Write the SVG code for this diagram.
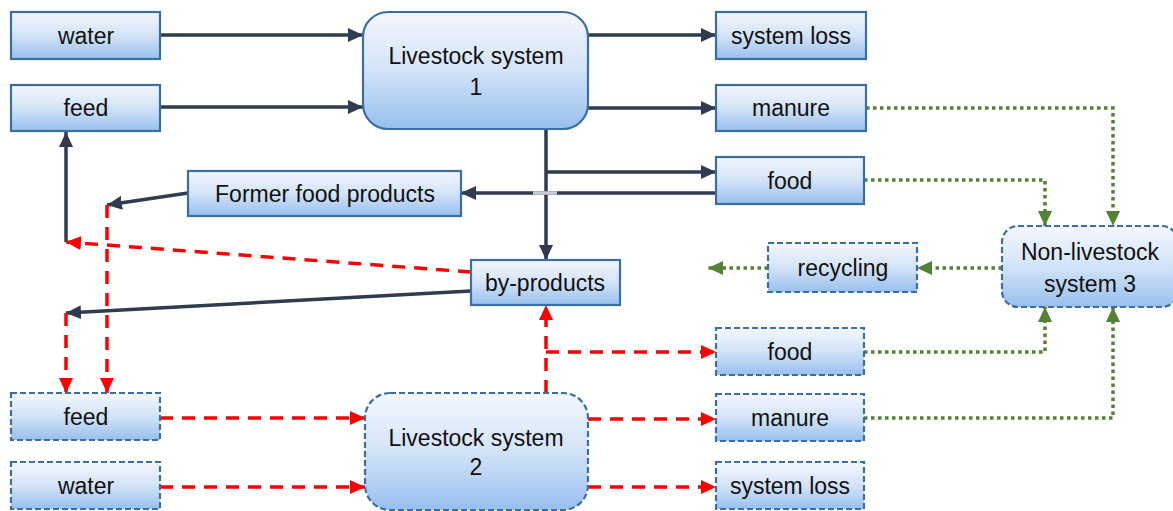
<svg xmlns="http://www.w3.org/2000/svg" width="1173" height="511" viewBox="0 0 1173 511">
<defs>
<linearGradient id="g" x1="0" y1="0" x2="0" y2="1">
<stop offset="0" stop-color="#f4f7fd"/>
<stop offset="0.5" stop-color="#d3e3f7"/>
<stop offset="1" stop-color="#97bfee"/>
</linearGradient>
<marker id="ad" markerUnits="userSpaceOnUse" markerWidth="15" markerHeight="14" refX="15" refY="7" orient="auto"><path d="M0,0 L15,7 L0,14 z" fill="#2f3b4e"/></marker>
<marker id="ar" markerUnits="userSpaceOnUse" markerWidth="15" markerHeight="14" refX="15" refY="7" orient="auto"><path d="M0,0 L15,7 L0,14 z" fill="#ff0000"/></marker>
<marker id="ag" markerUnits="userSpaceOnUse" markerWidth="15" markerHeight="14" refX="15" refY="7" orient="auto"><path d="M0,0 L15,7 L0,14 z" fill="#538135"/></marker>
</defs>
<style>
.b{fill:url(#g);stroke:#3a6fa3;stroke-width:2.2}
.d{stroke-dasharray:6 3}
text{font-family:"Liberation Sans",Arial,sans-serif;font-size:23px;fill:#111;text-anchor:middle}
.k{fill:none;stroke:#2f3b4e;stroke-width:3.5;marker-end:url(#ad)}
.r{fill:none;stroke:#ff0000;stroke-width:3.5;stroke-dasharray:13 9;marker-end:url(#ar)}
.gr{fill:none;stroke:#538135;stroke-width:3.5;stroke-dasharray:3.5 3.5;marker-end:url(#ag)}
</style>
<g id="connectors">
<path class="k" d="M160,35 H363"/>
<path class="k" d="M160,107 H363"/>
<path class="k" d="M588,35 H716"/>
<path class="k" d="M588,108 H716"/>
<path class="k" d="M546,130 V260"/>
<path class="k" d="M546,172 H716"/>
<path class="k" d="M716,193 H461"/>
<path d="M533,193 H557" stroke="#c9ccd2" stroke-width="3.5"/>
<path class="k" d="M188,193 L107,205"/>
<path class="k" d="M66,242 V132"/>
<path class="r" d="M471,272 L66,242"/>
<path class="k" d="M471,291 L66,313"/>
<path class="r" d="M66,313 V393"/>
<path class="r" d="M107,205 V393"/>
<path class="r" d="M160,418 H365"/>
<path class="r" d="M160,487 H365"/>
<path class="r" d="M588,419 H716"/>
<path class="r" d="M588,487 H716"/>
<path class="r" d="M546,393 V305"/>
<path class="r" d="M546,352 H716"/>
<path class="gr" d="M866,108 H1113 V226"/>
<path class="gr" d="M864,180 H1045 V226"/>
<path class="gr" d="M1002,268 H917"/>
<path class="gr" d="M768,268 H708"/>
<path class="gr" d="M864,352 H1045 V307"/>
<path class="gr" d="M864,418 H1113 V307"/>
</g>
<g id="water1"><rect class="b" x="11" y="12" width="149" height="47"/><text x="86" y="44">water</text></g>
<g id="feed1"><rect class="b" x="11" y="85" width="149" height="46"/><text x="86" y="116">feed</text></g>
<g id="ls1"><rect class="b" x="363" y="12" width="225" height="117" rx="25"/><text x="476" y="64">Livestock system</text><text x="476" y="95">1</text></g>
<g id="sysloss1"><rect class="b" x="716" y="12" width="150" height="47"/><text x="791" y="44">system loss</text></g>
<g id="manure1"><rect class="b" x="716" y="85" width="150" height="46"/><text x="791" y="116">manure</text></g>
<g id="food1"><rect class="b" x="716" y="157" width="148" height="47"/><text x="790" y="189">food</text></g>
<g id="former"><rect class="b" x="188" y="171" width="273" height="45"/><text x="325" y="202">Former food products</text></g>
<g id="byproducts"><rect class="b" x="471" y="260" width="149" height="45"/><text x="545" y="291">by-products</text></g>
<g id="recycling"><rect class="b d" x="768" y="243" width="149" height="49"/><text x="843" y="276">recycling</text></g>
<g id="ns3"><rect class="b d" x="1002" y="226" width="176" height="81" rx="16"/><text x="1090" y="260">Non-livestock</text><text x="1090" y="292">system 3</text></g>
<g id="food2"><rect class="b d" x="716" y="328" width="148" height="47"/><text x="790" y="360">food</text></g>
<g id="feed2"><rect class="b d" x="11" y="393" width="149" height="47"/><text x="86" y="425">feed</text></g>
<g id="ls2"><rect class="b d" x="365" y="393" width="223" height="117" rx="25"/><text x="476" y="446">Livestock system</text><text x="476" y="475">2</text></g>
<g id="manure2"><rect class="b d" x="716" y="394" width="148" height="47"/><text x="790" y="426">manure</text></g>
<g id="water2"><rect class="b d" x="11" y="462" width="149" height="47"/><text x="86" y="494">water</text></g>
<g id="sysloss2"><rect class="b d" x="716" y="462" width="148" height="47"/><text x="790" y="494">system loss</text></g>
</svg>
